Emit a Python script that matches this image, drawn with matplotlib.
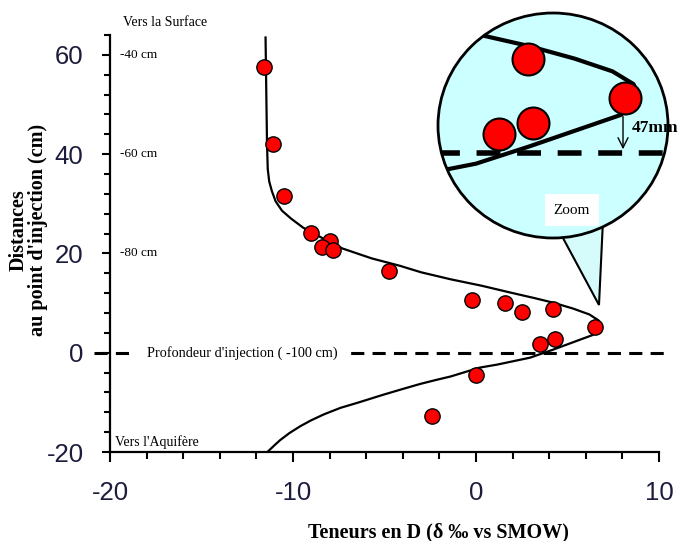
import numpy as np
import matplotlib.pyplot as plt
from matplotlib.patches import Circle, Polygon
from matplotlib.ticker import MultipleLocator

plt.rcParams["axes.unicode_minus"] = False

# mesures : teneur en D (delta per mille) et distance au point d'injection (cm)
teneur = [-11.6, -11.1, -10.5, -9.0, -8.0, -8.4, -7.8, -4.75, -0.2, 1.6,
          2.5, 4.2, 6.5, 4.3, 3.5, 0.0, -2.4]
distance = [57.5, 42.1, 31.6, 24.1, 22.5, 21.3, 20.6, 16.4, 10.7, 10.1,
            8.2, 8.9, 5.2, 2.8, 1.8, -4.5, -12.8]

# profil modelise
modele_x = [-11.5, -11.45, -11.42, -11.38, -11.3, -11.15, -10.95, -10.6,
            -10.1, -9.45, -8.3, -7.3, -5.7, -4.15, -3.0, -1.4, 0.3, 1.9,
            3.2, 4.2, 5.3, 6.2, 6.7, 6.8, 6.4, 5.3, 4.2, 2.95, 1.15, 0.2,
            -1.4, -2.2, -3.06, -4.0, -5.1, -6.4, -7.4, -8.3, -9.0, -9.6,
            -10.2, -10.7, -11.0, -11.4]
modele_y = [63.5, 50, 42, 37, 34.5, 32.5, 30.5, 28.6, 27.0, 25.2, 22.9,
            21.0, 19.0, 17.5, 16.2, 14.8, 13.5, 12.1, 11.0, 10.1, 8.9, 7.7,
            6.5, 5.5, 3.6, 2.1, 0.6, -1.0, -2.4, -3.0, -4.8, -5.5, -6.3,
            -7.3, -8.5, -10.0, -11.1, -12.4, -13.6, -14.8, -16.2, -17.6,
            -18.6, -20]

prof_labels = ["-40 cm", "-60 cm", "-80 cm"]
prof_pos = [60, 40, 20]

W, H = 687, 541


def fpx(x, y):
    return (x / W, 1 - y / H)


serif = "Liberation Serif"
sans = "Liberation Sans"
tick_col = "#1c1c3c"

fig = plt.figure(figsize=(W / 100, H / 100), dpi=100)
ax = fig.add_axes([110 / W, 1 - 452 / H, 549 / W, 417 / H])

ax.plot(modele_x, modele_y, color="black", lw=1.6, zorder=2)
ax.plot(teneur, distance, ls="none", marker="o", ms=11, mfc="red",
        mec="black", mew=1, zorder=4)
ax.plot([-20.9, 10.3], [0, 0], color="black", lw=2.2,
        ls=(0, (4.3, 2.7)), clip_on=False, zorder=1)

ax.set_xlim(-20, 10)
ax.set_ylim(-20, 64)
ax.xaxis.set_major_locator(MultipleLocator(10))
ax.xaxis.set_minor_locator(MultipleLocator(2))
ax.yaxis.set_major_locator(MultipleLocator(20))
ax.yaxis.set_minor_locator(MultipleLocator(4))
for s in ["top", "right"]:
    ax.spines[s].set_visible(False)
for s in ["left", "bottom"]:
    ax.spines[s].set_linewidth(1.6)
ax.tick_params(axis="x", which="major", length=7, width=1.5, pad=14,
               labelsize=18.5, labelcolor=tick_col)
ax.tick_params(axis="x", which="minor", length=5, width=1.5)
ax.tick_params(axis="y", which="major", length=6, width=1.5, pad=13,
               labelsize=18.5, labelcolor=tick_col)
ax.tick_params(axis="y", which="minor", length=4.5, width=1.5)
for lab in ax.get_xticklabels() + ax.get_yticklabels():
    lab.set_fontfamily(sans)

# annotations de profondeur
for lab, yv in zip(prof_labels, prof_pos):
    ax.text(-19.45, yv, lab, fontsize=9.5, family=serif, va="center",
            ha="left")
ax.text(-19.3, 66.6, "Vers la Surface", fontsize=10, family=serif,
        va="center", ha="left", clip_on=False)
ax.text(-19.7, -18.0, "Vers l'Aquifère", fontsize=10, family=serif,
        va="center", ha="left")
ax.text(-18.0, 0, "Profondeur d'injection ( -100 cm)", fontsize=10.3,
        family=serif, va="center", ha="left", zorder=3,
        bbox=dict(boxstyle="square,pad=0.8", fc="white", ec="none"))

fig.text(*fpx(438, 532), "Teneurs en D (δ ‰ vs SMOW)", fontsize=14.5,
         family=serif, weight="bold", ha="center", va="center")
fig.text(*fpx(28, 230), "Distances\nau point d'injection (cm)",
         fontsize=14.5, family=serif, weight="bold", ha="center",
         va="center", rotation=90, linespacing=0.95)

# triangle de renvoi vers le zoom
tri = Polygon([fpx(556, 225), fpx(603, 220), fpx(599, 305)], closed=True,
              transform=fig.transFigure, fc="#d6fbfb", ec="black", lw=1.5,
              zorder=0.5)
fig.patches.append(tri)

# encart zoom (points proches du sommet du profil)
zx = [x for x in teneur if x > 3]
zy = [y for x, y in zip(teneur, distance) if x > 3]

ax_in = fig.add_axes([438 / W, 1 - 238 / H, 230 / W, 225 / H])
ax_in.set_zorder(2)
ax_in.set_xlim(2.05, 7.52)
ax_in.set_ylim(-8.0, 13.2)
ax_in.axis("off")
disc = Circle((0.5, 0.5), 0.5, transform=ax_in.transAxes, fc="#ccffff",
              ec="none", zorder=0)
ax_in.add_patch(disc)
l1, = ax_in.plot(modele_x, modele_y, color="black", lw=3, zorder=2)
l2, = ax_in.plot(zx, zy, ls="none", marker="o", ms=23, mfc="red",
                 mec="black", mew=1.5, zorder=4)
l3, = ax_in.plot([2.0, 7.6], [0, 0], color="black", lw=4,
                 ls=(0, (4.3, 3.0)), zorder=1)
for art in (l1, l2, l3):
    art.set_clip_path(disc)
ax_in.annotate("", xy=(6.45, 0.1), xytext=(6.45, 3.7),
               arrowprops=dict(arrowstyle="->", lw=1, color="black",
                               mutation_scale=18), zorder=5)
ring = Circle((0.5, 0.5), 0.5, transform=ax_in.transAxes, fill=False,
              ec="black", lw=2, zorder=6, clip_on=False)
ax_in.add_patch(ring)

fig.text(*fpx(632, 128), "47mm", fontsize=12.5, family=serif, weight="bold",
         ha="left", va="center", zorder=5)
fig.text(*fpx(572, 210), "Zoom", fontsize=11, family=serif, ha="center",
         va="center", zorder=5,
         bbox=dict(boxstyle="square,pad=0.6", fc="white", ec="none"))

fig.savefig("out.png", dpi=100)
